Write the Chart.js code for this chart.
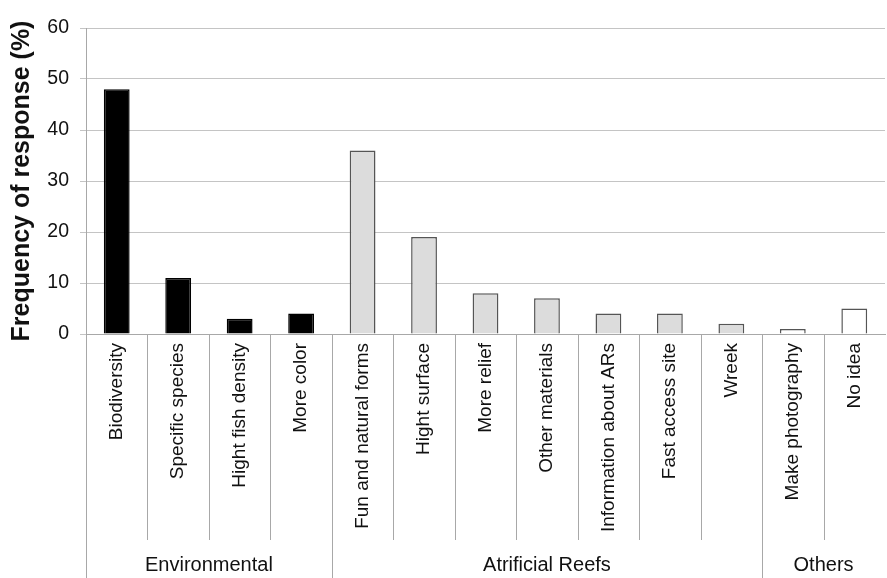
<!DOCTYPE html>
<html>
<head>
<meta charset="utf-8">
<script src="https://cdn.jsdelivr.net/npm/chart.js@4.4.1/dist/chart.umd.min.js"></script>
<style>
  body { margin: 0; background: #fff; }
  #wrap { width: 887px; height: 578px; position: relative; }
</style>
</head>
<body>
<div id="wrap"><canvas id="chart"></canvas></div>
<script>
// categories and values
const categories = [
  "Biodiversity", "Specific species", "Hight fish density", "More color",
  "Fun and natural forms", "Hight surface", "More relief", "Other materials",
  "Information about ARs", "Fast access site", "Wreek",
  "Make photography", "No idea"
];
const values = [48, 11, 3, 4, 36, 19, 8, 7, 4, 4, 2, 1, 5];

const groupNames = ["Environmental", "Atrificial Reefs", "Others"];
const groupSizes = [4, 7, 2];
const groupFills = ["#000000", "#dcdcdc", "#ffffff"];
const groupBorders = ["#000000", "#555555", "#555555"];

const yMin = 0;
const yMax = 60;
const yStep = 10;

const FONT = "'Liberation Sans', Arial, sans-serif";
const LABEL_AREA = 206; // height of the rotated-label band under the axis

// colour for each bar from the group it sits in
const barFill = [];
const barBorder = [];
groupSizes.forEach((n, g) => {
  for (let i = 0; i < n; i++) {
    barFill.push(groupFills[g]);
    barBorder.push(groupBorders[g]);
  }
});

// separators + group names below the x axis
const groupAxisPlugin = {
  id: "groupAxis",
  afterDraw: (chart) => {
    const ctx = chart.ctx;
    const x = chart.scales.x;
    const area = chart.chartArea;
    const bottom = chart.height;
    const half = (x.getPixelForValue(1) - x.getPixelForValue(0)) / 2;

    ctx.save();
    ctx.strokeStyle = "#a8a8a8";
    ctx.lineWidth = 1;

    // boundaries where a group starts
    const starts = [0];
    groupSizes.forEach((n, g) => starts.push(starts[g] + n));

    for (let i = 0; i < categories.length; i++) {
      const px = Math.round(x.getPixelForValue(i) - half) + 0.5;
      const isGroupEdge = starts.includes(i);
      ctx.beginPath();
      ctx.moveTo(px, area.bottom);
      ctx.lineTo(px, isGroupEdge ? bottom : area.bottom + LABEL_AREA);
      ctx.stroke();
    }

    ctx.fillStyle = "#111";
    ctx.font = "20px " + FONT;
    ctx.textAlign = "center";
    ctx.textBaseline = "middle";
    groupNames.forEach((name, g) => {
      const first = x.getPixelForValue(starts[g]) - half;
      const last = x.getPixelForValue(starts[g + 1] - 1) + half;
      ctx.fillText(name, (first + last) / 2, area.bottom + LABEL_AREA + 25);
    });
    ctx.restore();
  },
};

new Chart(document.getElementById("chart"), {
  type: "bar",
  data: {
    labels: categories,
    datasets: [
      {
        data: values,
        backgroundColor: barFill,
        borderColor: barBorder,
        borderWidth: 1.5,
        barPercentage: 0.42,
        categoryPercentage: 1,
      },
    ],
  },
  options: {
    responsive: true,
    maintainAspectRatio: false,
    animation: false,
    layout: { padding: { top: 28, right: 2, bottom: 578 - 334 - LABEL_AREA, left: 0 } },
    plugins: { legend: { display: false }, tooltip: { enabled: false } },
    scales: {
      x: {
        grid: { display: false, drawTicks: false },
        border: { display: true, color: "#a8a8a8", width: 1 },
        ticks: {
          autoSkip: false,
          maxRotation: 90,
          minRotation: 90,
          padding: 9,
          color: "#111",
          font: { family: FONT, size: 19 },
        },
        afterFit: (scale) => {
          scale.height = LABEL_AREA;
        },
      },
      y: {
        min: yMin,
        max: yMax,
        grid: { color: "#c4c4c4", lineWidth: 1, tickLength: 6, drawTicks: true },
        border: { display: true, color: "#a8a8a8", width: 1 },
        ticks: {
          stepSize: yStep,
          padding: 11,
          color: "#111",
          font: { family: FONT, size: 19.5 },
        },
        title: {
          display: true,
          text: "Frequency of response (%)",
          color: "#111",
          font: { family: FONT, size: 25, weight: "bold" },
          padding: { top: 7, bottom: 0 },
        },
        afterFit: (scale) => {
          scale.width = 86;
        },
      },
    },
  },
  plugins: [groupAxisPlugin],
});
</script>
</body>
</html>
